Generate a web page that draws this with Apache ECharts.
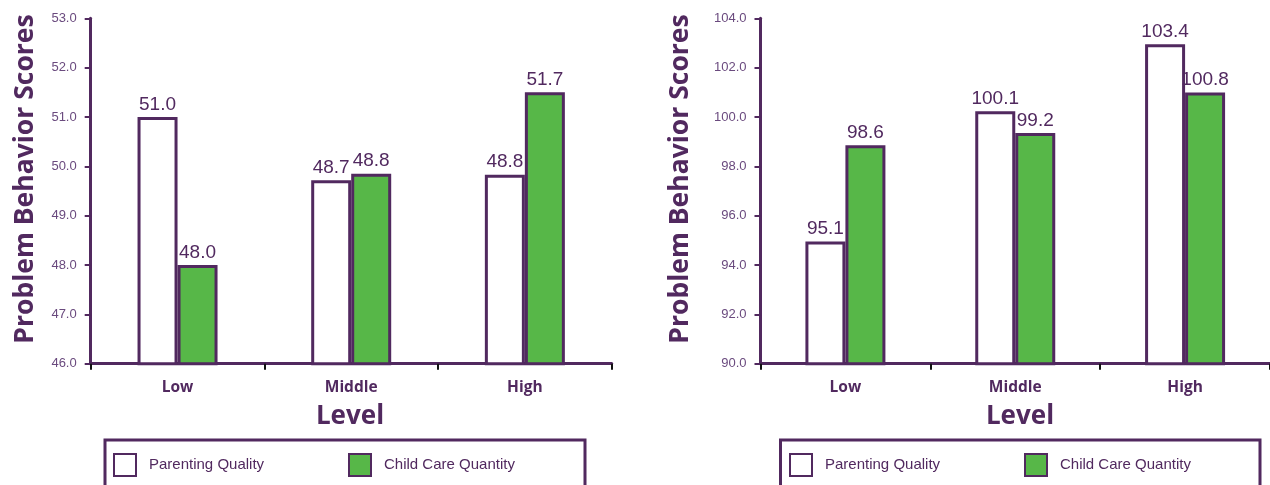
<!DOCTYPE html>
<html>
<head>
<meta charset="utf-8">
<script src="https://cdn.jsdelivr.net/npm/echarts@6/dist/echarts.min.js"></script>
<style>
html,body{margin:0;padding:0;background:#fff;}
#chart{width:1270px;height:485px;}
</style>
</head>
<body>
<div id="chart"></div>
<script>
const categories = ['Low', 'Middle', 'High'];
const seriesNames = ['Parenting Quality', 'Child Care Quantity'];
// Left panel
const leftParenting = [51.0, 49.72, 49.83];
const leftChildCare = [48.0, 49.85, 51.5];
const leftParentingLabels = ['51.0', '48.7', '48.8'];
const leftChildCareLabels = ['48.0', '48.8', '51.7'];
// Right panel
const rightParenting = [94.95, 100.23, 102.95];
const rightChildCare = [98.85, 99.35, 100.99];
const rightParentingLabels = ['95.1', '100.1', '103.4'];
const rightChildCareLabels = ['98.6', '99.2', '100.8'];
const yTitle = 'Problem Behavior Scores';
const xTitle = 'Level';

const PURPLE = '#51295f';
const TICKPURPLE = '#6a4a7e';
const GREEN = '#57b748';
const NARROW = "'Liberation Sans Narrow','Liberation Sans',Arial,sans-serif";
const BOLD = "'Open Sans','Lato','DejaVu Sans',sans-serif";

const chart = echarts.init(document.getElementById('chart'), null, {renderer: 'canvas'});

function xAxis(gridIndex) {
  return {
    type: 'category', gridIndex, data: categories,
    axisLine: {show: true, lineStyle: {color: PURPLE, width: 3}},
    axisTick: {show: true, length: 6, lineStyle: {color: '#111', width: 2}},
    axisLabel: {color: PURPLE, fontFamily: BOLD, fontWeight: 'bold', fontSize: 15.5, margin: 16},
    splitLine: {show: false}
  };
}
function yAxis(gridIndex, min, max, interval) {
  return {
    type: 'value', gridIndex, min, max, interval,
    axisLine: {show: true, lineStyle: {color: PURPLE, width: 3}},
    axisTick: {show: true, length: 6, lineStyle: {color: PURPLE, width: 2}},
    axisLabel: {color: TICKPURPLE, fontFamily: NARROW, fontSize: 13, margin: 14,
      formatter: v => v.toFixed(1)},
    splitLine: {show: false}
  };
}
function barSeries(name, data, labels, axisIndex, fill) {
  return {
    type: 'bar', name, data, xAxisIndex: axisIndex, yAxisIndex: axisIndex,
    barWidth: 40, barGap: '0%',
    itemStyle: {color: fill, borderColor: PURPLE, borderWidth: 3},
    label: {show: true, position: 'top', distance: 3, color: PURPLE,
      fontFamily: NARROW, fontSize: 19, formatter: p => labels[p.dataIndex]},
    emphasis: {disabled: true}, animation: false
  };
}
function legend(name, left) {
  return {
    data: [{name, icon: 'rect'}], left, top: 453, itemWidth: 22, itemHeight: 22, padding: 0,
    selectedMode: false,
    textStyle: {color: PURPLE, fontFamily: NARROW, fontSize: 15, padding: [0, 0, 0, 8]}
  };
}
function titleText(text, x, y, rotate, size) {
  return {
    type: 'text', x, y, rotation: rotate ? Math.PI / 2 : 0,
    style: {text, fill: PURPLE, font: `bold ${size}px ${BOLD}`, align: 'center', verticalAlign: 'middle'}
  };
}

chart.setOption({
  backgroundColor: '#fff',
  animation: false,
  grid: [
    {left: 90.7, top: 18.3, width: 521, height: 345.4},
    {left: 760.5, top: 18.3, width: 522, height: 345.4}
  ],
  xAxis: [xAxis(0), xAxis(1)],
  yAxis: [yAxis(0, 46, 53, 1), yAxis(1, 90, 104, 2)],
  legend: [
    legend(seriesNames[0], 113), legend(seriesNames[1], 348),
    legend(seriesNames[0], 789), legend(seriesNames[1], 1024)
  ],
  series: [
    barSeries(seriesNames[0], leftParenting, leftParentingLabels, 0, '#ffffff'),
    barSeries(seriesNames[1], leftChildCare, leftChildCareLabels, 0, GREEN),
    barSeries(seriesNames[0], rightParenting, rightParentingLabels, 1, '#ffffff'),
    barSeries(seriesNames[1], rightChildCare, rightChildCareLabels, 1, GREEN)
  ],
  graphic: [
    titleText(yTitle, 25, 179, true, 26.5),
    titleText(yTitle, 680, 179, true, 26.5),
    titleText(xTitle, 350, 417, false, 26),
    titleText(xTitle, 1020, 417, false, 26),
    {type: 'rect', shape: {x: 105, y: 440, width: 480, height: 80},
      style: {fill: 'none', stroke: PURPLE, lineWidth: 3}, silent: true},
    {type: 'rect', shape: {x: 780.5, y: 440, width: 479.5, height: 80},
      style: {fill: 'none', stroke: PURPLE, lineWidth: 3}, silent: true}
  ]
});
</script>
</body>
</html>
